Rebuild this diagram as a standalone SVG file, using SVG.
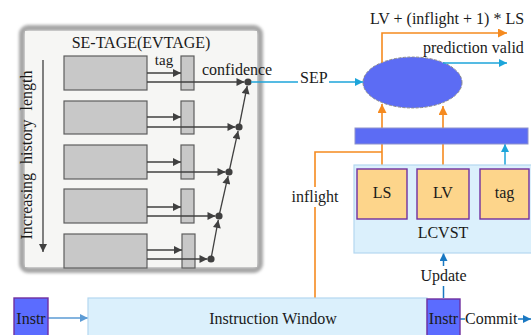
<svg xmlns="http://www.w3.org/2000/svg" width="531" height="335" viewBox="0 0 531 335" font-family="'Liberation Serif', 'DejaVu Serif', serif" font-size="16">
  <defs>
    <filter id="soft" x="-10%" y="-10%" width="120%" height="120%">
      <feGaussianBlur stdDeviation="1.8"/>
    </filter>
    <marker id="ahDark" viewBox="0 0 10 10" refX="10" refY="5" markerWidth="9" markerHeight="8" markerUnits="userSpaceOnUse" orient="auto">
      <path d="M0,0 L10,5 L0,10 Z" fill="#404040"/>
    </marker>
    <marker id="ahCyan" viewBox="0 0 10 10" refX="10" refY="5" markerWidth="10" markerHeight="8" markerUnits="userSpaceOnUse" orient="auto">
      <path d="M0,0 L10,5 L0,10 Z" fill="#1ca5da"/>
    </marker>
    <marker id="ahOrange" viewBox="0 0 10 10" refX="10" refY="5" markerWidth="10" markerHeight="9" markerUnits="userSpaceOnUse" orient="auto">
      <path d="M0,0 L10,5 L0,10 Z" fill="#f58a1f"/>
    </marker>
    <marker id="ahBlue" viewBox="0 0 10 10" refX="10" refY="5" markerWidth="9" markerHeight="8" markerUnits="userSpaceOnUse" orient="auto">
      <path d="M0,0 L10,5 L0,10 Z" fill="#1a78c2"/>
    </marker>
    <marker id="ahSky" viewBox="0 0 10 10" refX="10" refY="5" markerWidth="10" markerHeight="8" markerUnits="userSpaceOnUse" orient="auto">
      <path d="M0,0 L10,5 L0,10 Z" fill="#5b9bd5"/>
    </marker>
  </defs>
  <style>
    text { font-family: "Liberation Serif", "DejaVu Serif", serif; font-size: 16px; fill: #1a1a1a; }
    .mid { text-anchor: middle; }
    .table { fill: #c8c8c8; stroke: #5e5e5e; stroke-width: 1.2; }
    .tagcell { fill: #c8c8c8; stroke: #5e5e5e; stroke-width: 1.2; }
    .dark { stroke: #404040; stroke-width: 1.3; fill: none; }
    .dot { fill: #404040; }
    .cyan { stroke: #1ca5da; stroke-width: 1.5; fill: none; }
    .orange { stroke: #f58a1f; stroke-width: 1.6; fill: none; }
    .blue { stroke: #1a78c2; stroke-width: 1.5; fill: none; }
    .sky { stroke: #5b9bd5; stroke-width: 1.5; fill: none; }
    .field { fill: #fdd58b; stroke: #7030a0; stroke-width: 1.4; }
    .instr { fill: #5b6cff; stroke: #7030a0; stroke-width: 1.4; }
    .pale { fill: #dbf0fc; stroke: #b4d7f0; stroke-width: 1.2; }
  </style>

  <!-- predictor panel -->
  <g id="se-tage">
    <rect x="22" y="28" width="238" height="242" rx="6" fill="none" stroke="#a6a6a6" stroke-width="6" filter="url(#soft)"/>
    <rect x="25" y="31" width="232" height="236" fill="#f6f6f4"/>
    <text class="mid" x="141" y="48">SE-TAGE(EVTAGE)</text>
    <text class="mid" x="32" y="155" transform="rotate(-90 32 155)" style="word-spacing:5px">Increasing history length</text>
    <line class="dark" x1="43" y1="60" x2="43" y2="252" marker-end="url(#ahDark)"/>
    <g id="table-1"><rect class="table" x="64" y="56" width="83" height="34"/><rect class="tagcell" x="181" y="56" width="13" height="34"/></g>
    <g id="table-2"><rect class="table" x="64" y="101" width="83" height="33"/><rect class="tagcell" x="181" y="101" width="13" height="33"/></g>
    <g id="table-3"><rect class="table" x="64" y="145" width="83" height="34"/><rect class="tagcell" x="181" y="145" width="13" height="34"/></g>
    <g id="table-4"><rect class="table" x="64" y="189" width="83" height="34"/><rect class="tagcell" x="181" y="189" width="13" height="34"/></g>
    <g id="table-5"><rect class="table" x="64" y="234" width="83" height="34"/><rect class="tagcell" x="182" y="234" width="13" height="34"/></g>
    <text class="mid" x="164" y="65" style="font-size:15px">tag</text>
    <text x="202" y="75">confidence</text>
  </g>

  <g id="sep">
    <ellipse cx="412.5" cy="82.5" rx="49.5" ry="25.5" fill="#5c6cf4" stroke="#8a8a8a" stroke-width="1" stroke-dasharray="3 1.5"/>
  </g>

  <g id="connectors">
    <!-- tag and confidence reads from each table -->
    <line class="dark" x1="147" y1="73" x2="181" y2="73" marker-end="url(#ahDark)"/>
    <line class="dark" x1="147" y1="117" x2="181" y2="117" marker-end="url(#ahDark)"/>
    <line class="dark" x1="147" y1="162" x2="181" y2="162" marker-end="url(#ahDark)"/>
    <line class="dark" x1="147" y1="207" x2="181" y2="207" marker-end="url(#ahDark)"/>
    <line class="dark" x1="147" y1="250" x2="182" y2="250" marker-end="url(#ahDark)"/>
    <line class="dark" x1="147" y1="82" x2="244.5" y2="82" marker-end="url(#ahDark)"/>
    <line class="dark" x1="147" y1="127" x2="235.5" y2="127" marker-end="url(#ahDark)"/>
    <line class="dark" x1="147" y1="172" x2="225.5" y2="172" marker-end="url(#ahDark)"/>
    <line class="dark" x1="147" y1="216" x2="215.5" y2="216" marker-end="url(#ahDark)"/>
    <line class="dark" x1="147" y1="259" x2="207.5" y2="259" marker-end="url(#ahDark)"/>
    <!-- priority chain -->
    <line class="dark" x1="211" y1="259" x2="218.3" y2="219.9" marker-end="url(#ahDark)"/>
    <line class="dark" x1="219" y1="216" x2="228.1" y2="175.9" marker-end="url(#ahDark)"/>
    <line class="dark" x1="229" y1="172" x2="238.1" y2="130.9" marker-end="url(#ahDark)"/>
    <line class="dark" x1="239" y1="127" x2="247.2" y2="85.9" marker-end="url(#ahDark)"/>
    <circle class="dot" cx="248" cy="82" r="3.6"/>
    <circle class="dot" cx="239" cy="127" r="3.6"/>
    <circle class="dot" cx="229" cy="172" r="3.6"/>
    <circle class="dot" cx="219" cy="216" r="3.6"/>
    <circle class="dot" cx="211" cy="259" r="3.6"/>

    <!-- confidence to SEP -->
    <line class="cyan" x1="251" y1="82" x2="298" y2="82"/>
    <line class="cyan" x1="329" y1="82" x2="363" y2="82" marker-end="url(#ahCyan)"/>

    <!-- SEP outputs -->
    <polyline class="orange" points="382,62.5 382,33 507,33" marker-end="url(#ahOrange)"/>
    <line class="cyan" x1="443" y1="63" x2="507" y2="63" marker-end="url(#ahCyan)"/>

    <!-- LS / LV into SEP, inflight path -->
    <line class="orange" x1="382" y1="169" x2="382" y2="104" marker-end="url(#ahOrange)"/>
    <line class="orange" x1="443" y1="169" x2="443" y2="106" marker-end="url(#ahOrange)"/>
    <polyline class="orange" points="382,152 315,152 315,187"/>
    <line class="orange" x1="315" y1="207" x2="315" y2="298"/>

    <!-- tag into the compare bar -->
    <line class="cyan" x1="505" y1="169" x2="505" y2="144" marker-end="url(#ahCyan)"/>

    <!-- update and commit -->
    <line class="blue" x1="443.5" y1="298" x2="443.5" y2="286"/>
    <line class="blue" x1="443.5" y1="266" x2="443.5" y2="253" marker-end="url(#ahBlue)"/>
    <line class="blue" x1="460" y1="319" x2="465" y2="319"/>
    <line class="blue" x1="518" y1="319" x2="531" y2="319" marker-end="url(#ahBlue)"/>

    <!-- fetch into window -->
    <line class="sky" x1="48" y1="318" x2="88" y2="318" marker-end="url(#ahSky)"/>
  </g>

  <g id="compare-bar">
    <rect x="355" y="128" width="173" height="16" fill="#5c6cf4" stroke="#8d92cc" stroke-width="1"/>
  </g>

  <g id="lcvst">
    <rect class="pale" x="354" y="165" width="180" height="88"/>
    <text class="mid" x="443" y="238">LCVST</text>
  </g>
  <g id="ls"><rect class="field" x="357" y="169" width="50" height="50"/><text class="mid" x="382" y="198">LS</text></g>
  <g id="lv"><rect class="field" x="417" y="169" width="52" height="50"/><text class="mid" x="443" y="198">LV</text></g>
  <g id="tag"><rect class="field" x="480" y="169" width="49" height="50"/><text class="mid" x="504.5" y="198">tag</text></g>

  <g id="instruction-window">
    <rect class="pale" x="88" y="298" width="339" height="40"/>
    <text class="mid" x="273" y="324">Instruction Window</text>
  </g>
  <g id="instr-in"><rect class="instr" x="14" y="298" width="34" height="40"/><text class="mid" x="31" y="324">Instr</text></g>
  <g id="instr-out"><rect class="instr" x="427" y="299" width="33" height="40"/><text class="mid" x="443.5" y="324">Instr</text></g>

  <!-- labels -->
  <text x="300" y="83">SEP</text>
  <text x="370" y="24">LV + (inflight + 1) * LS</text>
  <text x="423" y="53">prediction valid</text>
  <text class="mid" x="315" y="202">inflight</text>
  <text class="mid" x="443.5" y="281">Update</text>
  <text x="465" y="324">Commit</text>
</svg>
